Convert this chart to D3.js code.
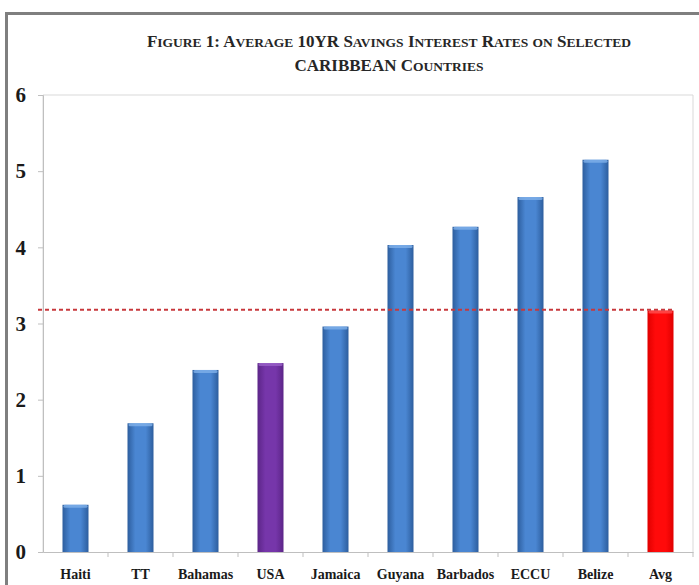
<!DOCTYPE html>
<html>
<head>
<meta charset="utf-8">
<script src="https://cdn.jsdelivr.net/npm/d3@7"></script>
<style>
    body { margin: 0; background: white; }
    text { font-family: 'Liberation Serif', 'DejaVu Serif', serif; font-weight: bold; }
</style>
</head>
<body>
<svg class="main" width="699" height="585"></svg>
<script>
const countries = ['Haiti', 'TT', 'Bahamas', 'USA', 'Jamaica', 'Guyana', 'Barbados', 'ECCU', 'Belize', 'Avg'],
    rates = [0.62, 1.69, 2.39, 2.48, 2.96, 4.03, 4.27, 4.66, 5.15, 3.17],
    averageLine = 3.18,
    yTicks = [0, 1, 2, 3, 4, 5, 6],
    titleLines = ['Figure 1: Average 10YR Savings Interest Rates on Selected', 'CARIBBEAN Countries'];

const svg = d3.select('svg.main'),
    margin = { top: 95, left: 43, right: 6, bottom: 33 },
    width = 699 - margin.left - margin.right,
    height = 585 - margin.top - margin.bottom;

const defs = svg.append('defs');

function barGradient(id, edge, mid) {
    const g = defs.append('linearGradient').attr('id', id)
        .attr('x1', 0).attr('x2', 1).attr('y1', 0).attr('y2', 0);
    g.append('stop').attr('offset', '0%').attr('stop-color', edge);
    g.append('stop').attr('offset', '30%').attr('stop-color', mid);
    g.append('stop').attr('offset', '70%').attr('stop-color', mid);
    g.append('stop').attr('offset', '100%').attr('stop-color', edge);
}

barGradient('blueBar', '#2d5e9e', '#4a86d2');
barGradient('purpleBar', '#5c2588', '#7636aa');
barGradient('redBar', '#e00000', '#ff0a0a');

// outer frame
svg.append('path')
    .attr('d', 'M6.5,585 L6.5,13.5 L699,13.5')
    .attr('fill', 'none')
    .attr('stroke', '#7f7f7f')
    .attr('stroke-width', 3);

// title in hand made small caps: lower case letters become smaller capitals
function smallCapRuns(line) {
    const runs = [];
    for (const ch of line) {
        const small = ch !== ch.toUpperCase();
        const last = runs[runs.length - 1];
        if (last && last.small === small) last.text += ch.toUpperCase();
        else runs.push({ small: small, text: ch.toUpperCase() });
    }
    return runs;
}

const title = svg.append('text')
    .attr('text-anchor', 'middle')
    .attr('fill', '#262626');

titleLines.forEach(function (line, i) {
    smallCapRuns(line).forEach(function (run, j) {
        const t = title.append('tspan')
            .attr('font-size', run.small ? 13.5 : 17)
            .text(run.text);
        if (j === 0) t.attr('x', 389).attr('y', 47 + i * 24);
    });
});

const x = d3.scaleBand().domain(countries).range([0, width]).paddingInner(0.6).paddingOuter(0.3),
    xBound = d3.scaleBand().domain(countries).range([0, width]),
    y = d3.scaleLinear().domain([0, 6]).range([height, 0]);

const chart = svg.append('g').attr('transform', `translate(${margin.left},${margin.top})`);

// plot border
chart.append('path')
    .attr('d', `M0,${height} V0 H${width} V${height}`)
    .attr('fill', 'none')
    .attr('stroke', '#d9d9d9')
    .attr('stroke-width', 1);

const yAxis = chart.append('g')
    .call(d3.axisLeft(y).tickValues(yTicks).tickSize(5).tickPadding(12).tickFormat(d3.format('d')));
yAxis.select('.domain').attr('stroke', '#bfbfbf');
yAxis.selectAll('.tick line').attr('stroke', '#bfbfbf');
yAxis.selectAll('text').attr('font-size', 21).attr('fill', '#1a1a1a')
    .attr('font-family', "'Liberation Serif', serif").attr('font-weight', 'bold');

const xAxis = chart.append('g')
    .attr('transform', `translate(0,${height})`)
    .call(d3.axisBottom(xBound).tickSize(0).tickPadding(17));
xAxis.select('.domain').attr('stroke', '#bfbfbf');
xAxis.selectAll('text').attr('font-size', 14).attr('fill', '#1a1a1a')
    .attr('font-family', "'Liberation Serif', serif").attr('font-weight', 'bold');

chart.selectAll('line.cat-tick')
    .data(countries.slice(1).concat(['end']))
    .enter()
    .append('line')
    .classed('cat-tick', true)
    .attr('x1', (d, i) => xBound.step() * (i + 1))
    .attr('x2', (d, i) => xBound.step() * (i + 1))
    .attr('y1', height)
    .attr('y2', height + 5)
    .attr('stroke', '#bfbfbf');

function fillFor(d) {
    if (d === 'USA') return 'url(#purpleBar)';
    if (d === 'Avg') return 'url(#redBar)';
    return 'url(#blueBar)';
}

function capFor(d) {
    if (d === 'USA') return '#9a62c8';
    if (d === 'Avg') return '#ff5050';
    return '#7fb0ea';
}

const bars = chart.selectAll('g.bar')
    .data(countries.map((c, i) => ({ name: c, value: rates[i] })))
    .enter()
    .append('g')
    .classed('bar', true);

bars.append('rect')
    .attr('x', d => x(d.name))
    .attr('y', d => y(d.value))
    .attr('width', x.bandwidth())
    .attr('height', d => height - y(d.value))
    .attr('fill', d => fillFor(d.name));

bars.append('rect')
    .attr('x', d => x(d.name) + 1)
    .attr('y', d => y(d.value))
    .attr('width', x.bandwidth() - 2)
    .attr('height', 3)
    .attr('rx', 1.5)
    .attr('fill', d => capFor(d.name))
    .attr('opacity', 0.8);

chart.append('line')
    .attr('x1', -5)
    .attr('x2', x('Avg') + x.bandwidth())
    .attr('y1', y(averageLine))
    .attr('y2', y(averageLine))
    .attr('stroke', '#c8383c')
    .attr('stroke-width', 2)
    .attr('stroke-dasharray', '4,3');
</script>
</body>
</html>
